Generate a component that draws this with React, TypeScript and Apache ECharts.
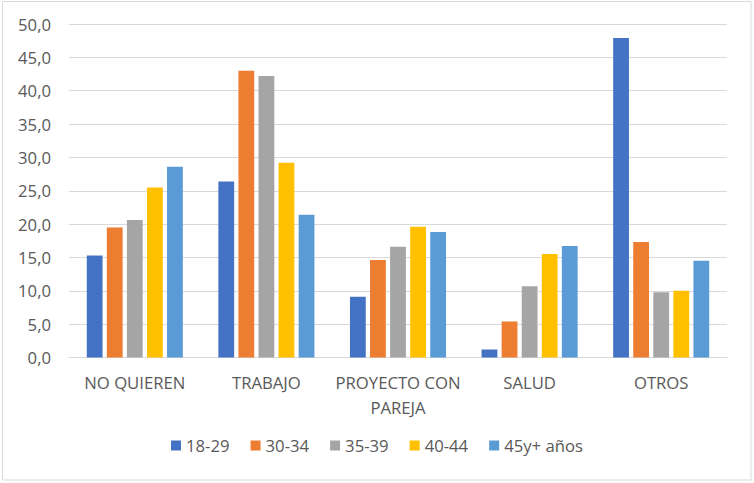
import React, { useEffect, useRef } from "react";
import * as echarts from "echarts";

const categories = ["NO QUIEREN", "TRABAJO", "PROYECTO CON\nPAREJA", "SALUD", "OTROS"];
const seriesNames = ["18-29", "30-34", "35-39", "40-44", "45y+ años"];
const s1829 = [15.3, 26.4, 9.1, 1.2, 47.9];
const s3034 = [19.5, 43.0, 14.6, 5.4, 17.3];
const s3539 = [20.6, 42.2, 16.6, 10.7, 9.8];
const s4044 = [25.5, 29.2, 19.6, 15.5, 10.0];
const s45 = [28.6, 21.4, 18.8, 16.7, 14.5];
const colors = ["#4472C4", "#ED7D31", "#A5A5A5", "#FFC000", "#5B9BD5"];

export default function App() {
  const ref = useRef<HTMLDivElement>(null);
  useEffect(() => {
    document.body.style.margin = "0";
    const chart = echarts.init(ref.current!, null, { renderer: "svg" });
    const data = [s1829, s3034, s3539, s4044, s45];
    const font = "'Open Sans', 'Noto Sans', sans-serif";
    chart.setOption({
      animation: false,
      color: colors,
      textStyle: { fontFamily: font },
      graphic: [
        {
          type: "rect",
          shape: { x: 2.5, y: 1.5, width: 748.5, height: 478.5 },
          style: { fill: "none", stroke: "#D9D9D9", lineWidth: 1 },
          silent: true,
        },
      ],
      grid: { left: 69, right: 27, top: 24, bottom: 125.5 },
      legend: {
        bottom: 24,
        left: "center",
        itemWidth: 10,
        itemHeight: 10,
        itemGap: 21,
        icon: "rect",
        textStyle: { color: "#595959", fontSize: 16.7, fontFamily: font },
        data: seriesNames,
      },
      xAxis: {
        type: "category",
        data: categories,
        axisLine: { lineStyle: { color: "#D9D9D9", width: 1 } },
        axisTick: { show: false },
        axisLabel: {
          color: "#595959",
          fontSize: 16.7,
          lineHeight: 25,
          margin: 12,
          interval: 0,
          fontFamily: font,
        },
      },
      yAxis: {
        type: "value",
        min: 0,
        max: 50,
        interval: 5,
        axisLine: { show: false },
        axisTick: { show: false },
        splitLine: { lineStyle: { color: "#D9D9D9", width: 1 } },
        axisLabel: {
          color: "#595959",
          fontSize: 16.7,
          margin: 18,
          fontFamily: font,
          formatter: (v: number) => v.toFixed(1).replace(".", ","),
        },
      },
      series: seriesNames.map((name, i) => ({
        name,
        type: "bar",
        data: data[i],
        barGap: "27%",
        barCategoryGap: "27%",
        itemStyle: { color: colors[i] },
      })),
    });
    return () => chart.dispose();
  }, []);
  return <div ref={ref} style={{ width: 754, height: 483 }} />;
}
